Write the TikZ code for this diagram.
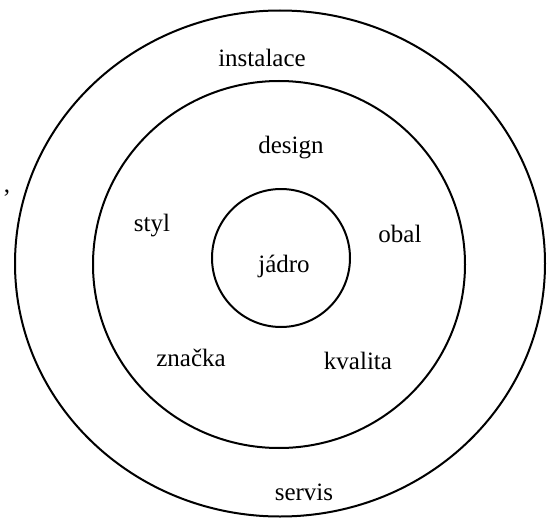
\documentclass[tikz,border=0pt]{standalone}
\usepackage{fontspec}
\setmainfont{Liberation Serif}
\begin{document}
\begin{tikzpicture}[x=1pt,y=-1pt,
  ring/.style={draw=black,line width=2pt},
  lab/.style={font=\fontsize{25}{29}\selectfont,inner sep=0pt}]
\useasboundingbox (0,0) rectangle (552,519);
\draw[ring] (280,263.5) ellipse [x radius=265, y radius=253] coordinate (outer);
\draw[ring] (279,264.5) ellipse [x radius=186, y radius=183.5] coordinate (middle);
\draw[ring] (281,258) circle [radius=69] coordinate (inner);
\node[lab] (instalace) at (262,58) {instalace};
\node[lab] (design) at (291,148) {design};
\node[lab] (styl) at (152,226) {styl};
\node[lab] (obal) at (400,234) {obal};
\node[lab] (jadro) at (284,266) {jádro};
\node[lab] (znacka) at (191,358) {značka};
\node[lab] (kvalita) at (358,361) {kvalita};
\node[lab] (servis) at (304,492) {servis};
\node[lab] (comma) at (7,193) {,};
\end{tikzpicture}
\end{document}
